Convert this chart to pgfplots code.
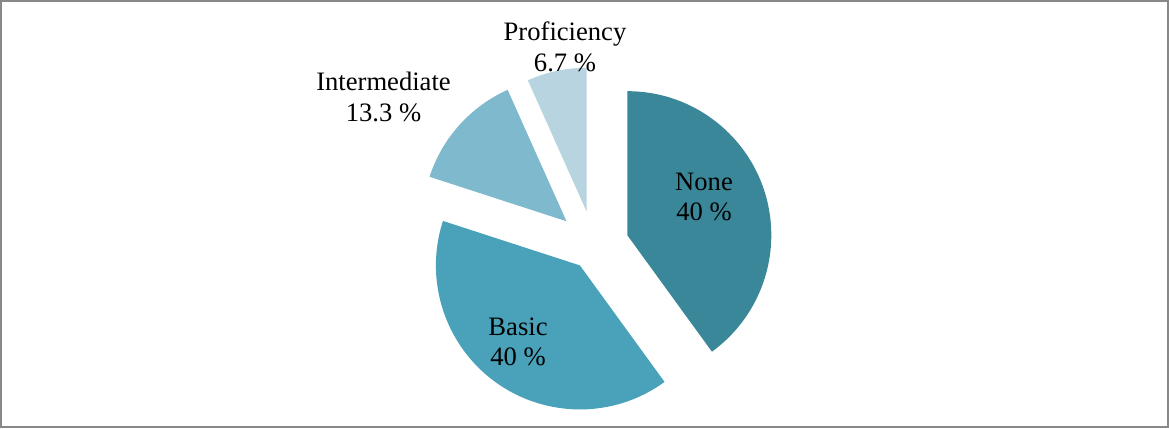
\documentclass[border=0pt]{standalone}
\usepackage{pgfplots}
\pgfplotsset{compat=1.18}
\usepackage{fontspec}
\setmainfont{Liberation Serif}

\definecolor{cNone}{RGB}{58,135,153}
\definecolor{cBasic}{RGB}{73,162,185}
\definecolor{cInter}{RGB}{127,185,206}
\definecolor{cProf}{RGB}{183,212,224}
\definecolor{cFrame}{RGB}{136,136,136}

% pie centre (594,182) in axis units, radius 144 units = 72pt
% #1 cumulative start (%), #2 share (%), #3 explode (units), #4 colour
\newcommand{\slice}[4]{%
  \fill[#4] (axis cs:{594+#3*cos(90-3.6*(#1+#2/2))},{182+#3*sin(90-3.6*(#1+#2/2))})
    -- ++({90-3.6*#1}:72pt)
    arc[start angle={90-3.6*#1}, end angle={90-3.6*(#1+#2)}, radius=72pt]
    -- cycle;}

\begin{document}
\begin{tikzpicture}
\begin{axis}[
    scale only axis,
    width=584.5pt, height=214pt,
    xmin=0, xmax=1169, ymin=0, ymax=428,
    hide axis,
    clip=false,
]
  % frame
  \draw[cFrame, line width=0.9pt] (axis cs:0.9,0.9) rectangle (axis cs:1168.1,427.1);

  % slices: start, value, explode
  \slice{0}{40}{35}{cNone}
  \slice{40}{40}{24}{cBasic}
  \slice{80}{13.3}{37}{cInter}
  \slice{93.3}{6.7}{35}{cProf}

  \tikzset{lbl/.style={align=center, text=black, font=\fontsize{13.3}{15.2}\selectfont}}
  \node[lbl] at (axis cs:704,{428-197}) {None\\40 \%};
  \node[lbl] at (axis cs:518,{428-342}) {Basic\\40 \%};
  \node[lbl] at (axis cs:383.5,{428-97}) {Intermediate\\13.3 \%};
  \node[lbl] at (axis cs:565,{428-47}) {Proficiency\\6.7 \%};
\end{axis}
\end{tikzpicture}
\end{document}
